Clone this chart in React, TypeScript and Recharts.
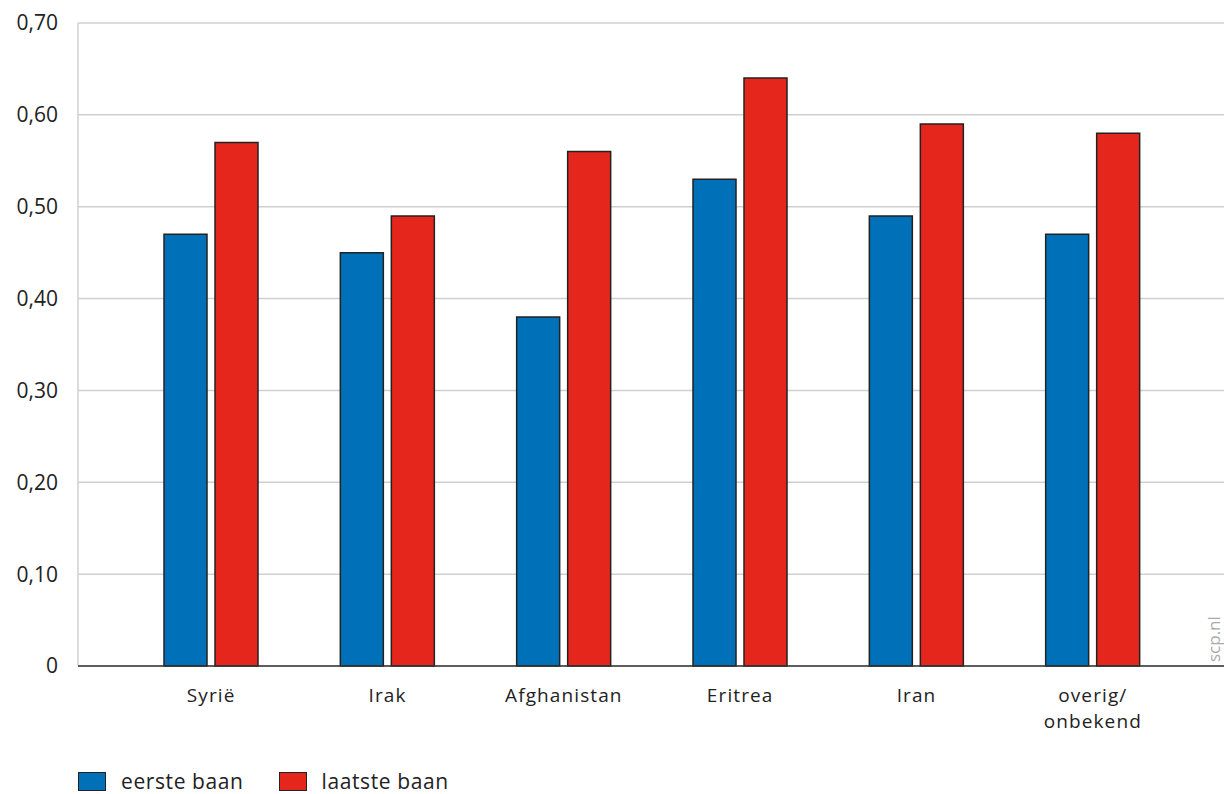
import { Bar, BarChart, CartesianGrid, XAxis, YAxis } from "recharts";

const CATEGORIES = ["Syrië", "Irak", "Afghanistan", "Eritrea", "Iran", "overig/\nonbekend"];
const EERSTE_BAAN = [0.47, 0.45, 0.38, 0.53, 0.49, 0.47];
const LAATSTE_BAAN = [0.57, 0.49, 0.56, 0.64, 0.59, 0.58];
const Y_TICKS = [0, 0.1, 0.2, 0.3, 0.4, 0.5, 0.6, 0.7];

const BLUE = "#0070b9";
const RED = "#e4261c";
const FONT = "'Open Sans', Lato, sans-serif";

const data = CATEGORIES.map((name, i) => ({
  name,
  eerste: EERSTE_BAAN[i],
  laatste: LAATSTE_BAAN[i],
}));

const fmt = (v: number) => (v === 0 ? "0" : v.toFixed(2).replace(".", ","));

function CategoryTick({ x, y, payload }: any) {
  const lines = String(payload.value).split("\n");
  return (
    <g>
      {lines.map((l, i) => (
        <text
          key={l}
          x={x}
          y={y + 28 + i * 26}
          textAnchor="middle"
          fill="#222"
          fontSize={19}
          letterSpacing={1.1}
          fontFamily={FONT}
        >
          {l}
        </text>
      ))}
    </g>
  );
}

function LegendItem({ color, label }: { color: string; label: string }) {
  return (
    <div style={{ display: "flex", alignItems: "center", marginRight: 35 }}>
      <div
        style={{
          width: 26,
          height: 17,
          background: color,
          border: "1.5px solid #222",
          marginRight: 15,
        }}
      />
      <span style={{ fontSize: 21, letterSpacing: 0.6, color: "#222" }}>{label}</span>
    </div>
  );
}

export default function App() {
  return (
    <div style={{ position: "absolute", left: 0, top: 0, width: 1224, height: 794, fontFamily: FONT, background: "#fff" }}>
      <BarChart
        width={1240}
        height={740}
        data={data}
        margin={{ top: 23, right: 0, left: 0, bottom: 0 }}
        barSize={43}
        barGap={8}
      >
        <CartesianGrid vertical={false} stroke="#d0d0d0" strokeWidth={1.5} />
        <YAxis
          domain={[0, 0.7]}
          ticks={Y_TICKS}
          tickFormatter={fmt}
          width={78}
          tickLine={false}
          tickMargin={14}
          axisLine={{ stroke: "#d0d0d0", strokeWidth: 1.5 }}
          tick={{ fill: "#222", fontSize: 21, fontFamily: FONT }}
        />
        <XAxis
          dataKey="name"
          height={74}
          padding={{ left: 45, right: 59 }}
          tickLine={false}
          axisLine={{ stroke: "#333", strokeWidth: 1.5 }}
          tick={<CategoryTick />}
          interval={0}
        />
        <Bar dataKey="eerste" fill={BLUE} stroke="#222" strokeWidth={1.5} isAnimationActive={false} />
        <Bar dataKey="laatste" fill={RED} stroke="#222" strokeWidth={1.5} isAnimationActive={false} />
      </BarChart>
      <div
        style={{
          position: "absolute",
          left: 1202,
          top: 662,
          transform: "rotate(-90deg)",
          transformOrigin: "left top",
          fontSize: 17,
          color: "#aaa",
          whiteSpace: "nowrap",
        }}
      >
        scp.nl
      </div>
      <div style={{ position: "absolute", left: 78, top: 767, display: "flex" }}>
        <LegendItem color={BLUE} label="eerste baan" />
        <LegendItem color={RED} label="laatste baan" />
      </div>
    </div>
  );
}
